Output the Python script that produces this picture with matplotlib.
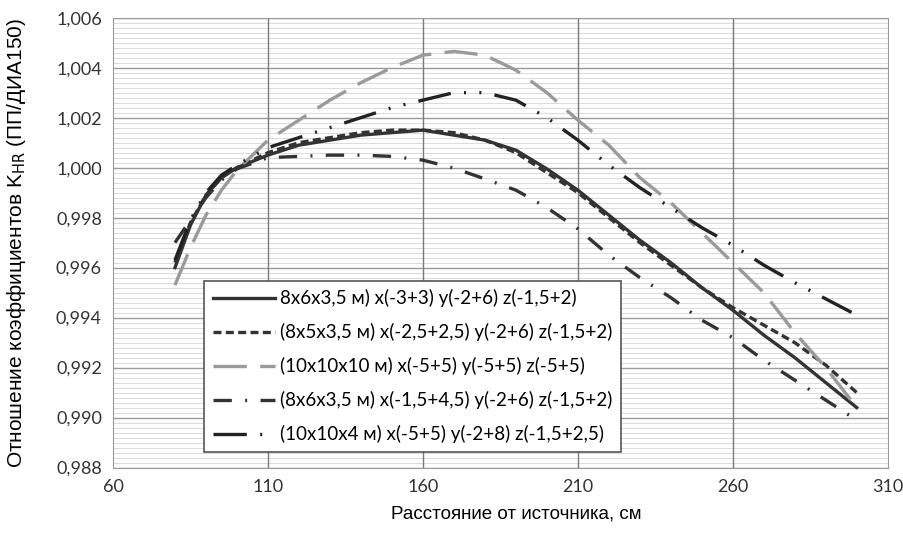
import matplotlib
matplotlib.use('Agg')
import matplotlib.pyplot as plt
from matplotlib.ticker import MultipleLocator, FixedLocator
import numpy as np

# distance from source, cm
dist = [80, 85, 90, 95, 100, 110, 120, 130, 140, 150, 160, 170, 180, 190, 200,
        210, 220, 230, 240, 250, 260, 270, 280, 290, 300]

# 8x6x3,5 m  x(-3+3)
k1 = [0.9960, 0.9977, 0.9989, 0.9996, 1.0000, 1.0005, 1.0009, 1.0011, 1.0013, 1.0014,
      1.0015, 1.0013, 1.0011, 1.0007, 0.99995, 0.9991, 0.9981, 0.9971, 0.9962, 0.9952,
      0.9943, 0.9933, 0.9924, 0.9914, 0.9904]
# 8x5x3,5 m  x(-2,5+2,5)
k2 = [0.9962, 0.9978, 0.9989, 0.9996, 1.0000, 1.0006, 1.0010, 1.0012, 1.0014, 1.0015,
      1.0015, 1.0014, 1.0011, 1.0006, 0.9998, 0.9990, 0.9980, 0.9970, 0.9961, 0.9952,
      0.9944, 0.9937, 0.9930, 0.9921, 0.9910]
# 10x10x10 m
k3 = [0.9953, 0.9968, 0.9981, 0.9991, 0.9999, 1.0011, 1.0019, 1.0027, 1.0034, 1.0040,
      1.0045, 1.00465, 1.0045, 1.0039, 1.0030, 1.0019, 1.0009, 0.9996, 0.9986, 0.9974,
      0.9962, 0.9950, 0.9934, 0.9920, 0.9904]
# 8x6x3,5 m  x(-1,5+4,5)
k4 = [0.9970, 0.9979, 0.9988, 0.9995, 0.99995, 1.0004, 1.00045, 1.0005, 1.0005, 1.00045,
      1.0003, 0.99998, 0.99955, 0.9991, 0.9984, 0.99755, 0.9965, 0.9956, 0.9948, 0.9939,
      0.9932, 0.9923, 0.9915, 0.9907, 0.9899]
# 10x10x4 m
k5 = [0.9963, 0.9979, 0.9990, 0.9997, 1.0001, 1.0008, 1.0012, 1.0016, 1.0020, 1.0024,
      1.0027, 1.0030, 1.0030, 1.0027, 1.0020, 1.0011, 1.0001, 0.9992, 0.9984, 0.9976,
      0.9969, 0.9961, 0.9954, 0.99475, 0.9941]

labels = ['8x6x3,5 м) x(-3+3) y(-2+6) z(-1,5+2)',
          '(8x5x3,5 м) x(-2,5+2,5) y(-2+6) z(-1,5+2)',
          '(10x10x10 м) x(-5+5) y(-5+5) z(-5+5)',
          '(8x6x3,5 м) x(-1,5+4,5) y(-2+6) z(-1,5+2)',
          '(10x10x4 м) x(-5+5) y(-2+8) z(-1,5+2,5)']

xticks = [60, 110, 160, 210, 260, 310]
yticks = [0.988, 0.990, 0.992, 0.994, 0.996, 0.998, 1.000, 1.002, 1.004, 1.006]

plt.rcParams['font.family'] = ['Lato', 'DejaVu Sans']

fig = plt.figure(figsize=(9.04, 5.35), dpi=100)
ax = fig.add_axes([0.125, 0.126, 0.857, 0.841])

ax.plot(dist, k1, color='#333333', lw=2.4, ls='-', label=labels[0], zorder=3)
ax.plot(dist, k2, color='#333333', lw=2.4, ls=(0, (2.4, 1.3)), label=labels[1], zorder=3)
ax.plot(dist, k3, color='#9a9a9a', lw=2.4, ls=(0, (10, 4)), label=labels[2], zorder=3)
ax.plot(dist, k4, color='#333333', lw=2.4, ls=(0, (5.5, 4, 0.6, 4)), label=labels[3], zorder=3)
ax.plot(dist, k5, color='#222222', lw=2.4, ls=(0, (10, 4, 0.6, 4, 0.6, 4)), label=labels[4], zorder=3)

ax.set_xlim(60, 310)
ax.set_ylim(0.988, 1.006)
ax.xaxis.set_major_locator(FixedLocator(xticks))
ax.yaxis.set_major_locator(FixedLocator(yticks))
ax.yaxis.set_minor_locator(MultipleLocator(0.0002))
ax.set_xticklabels([str(v) for v in xticks])
ax.set_yticklabels([('%.3f' % v).replace('.', ',') for v in yticks])
ax.tick_params(which='both', length=0, labelsize=13, colors='#333333', pad=8)

ax.grid(which='minor', axis='y', color='#dcdcdc', lw=0.8)
ax.grid(which='major', axis='y', color='#9a9a9a', lw=1.0)
ax.set_axisbelow(True)
# vertical lines drawn above the light horizontal grid
ax.vlines(xticks[1:-1], 0.988, 1.006, colors='#7a7a7a', lw=1.0, zorder=1)
for s in ax.spines.values():
    s.set_color('#9a9a9a')

ax.set_xlabel('Расстояние от источника, см', fontsize=13.5,
              family=['Liberation Sans Narrow', 'Liberation Sans', 'DejaVu Sans'], labelpad=8)
ax.xaxis.label.set_x(0.52)
ax.set_ylabel(r'Отношение коэффициентов K$_{\mathrm{HR}}$ (ПП/ДИА150)', fontsize=15,
              family=['Liberation Sans', 'DejaVu Sans'], labelpad=20)

leg = ax.legend(loc='lower left', bbox_to_anchor=(0.118, 0.035), borderaxespad=0,
                fontsize=13.5, handlelength=3.3, handletextpad=0.3, labelspacing=0.85,
                fancybox=False, framealpha=1, edgecolor='#555555', borderpad=0.45)
leg.get_frame().set_linewidth(1.2)
leg.set_zorder(5)

fig.savefig('out.png', dpi=100)
